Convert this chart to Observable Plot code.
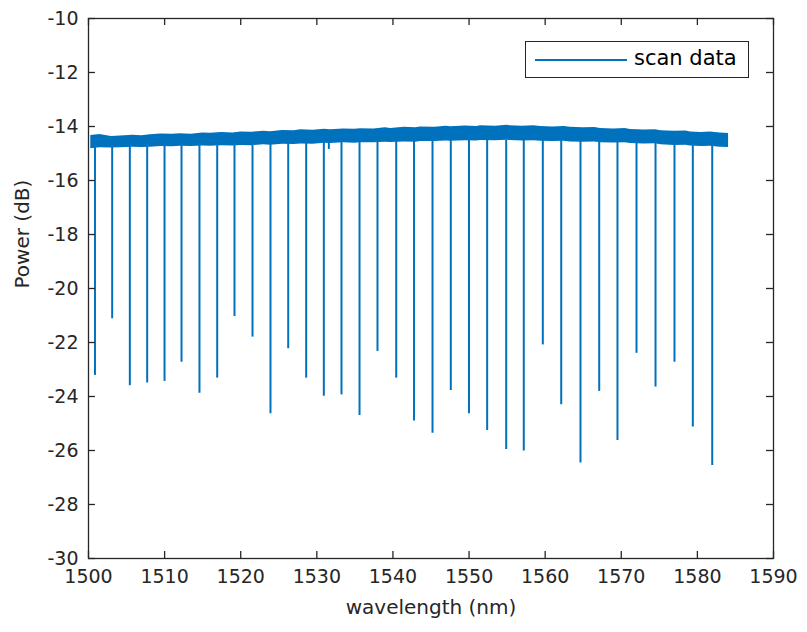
<!DOCTYPE html>
<html>
<head>
<meta charset="utf-8">
<script src="https://cdn.jsdelivr.net/npm/d3@7"></script>
<script src="https://cdn.jsdelivr.net/npm/@observablehq/plot@0.6"></script>
<style>
  html, body { margin: 0; padding: 0; background: #fff; }
  #wrap { position: relative; width: 807px; height: 632px; }
  #legend {
    position: absolute; left: 525px; top: 41px; width: 222px; height: 35px;
    border: 1.2px solid #262626; background: #fff;
    font-family: "DejaVu Sans", sans-serif; font-size: 21px; color: #000;
  }
  #legend svg { position: absolute; left: 9px; top: 16px; }
  #legend span { position: absolute; left: 108px; top: 4px; }
</style>
</head>
<body>
<div id="wrap"><div id="legend"><svg width="94" height="4"><line x1="0" x2="92" y1="2" y2="2" stroke="#0072BD" stroke-width="2"/></svg><span>scan data</span></div></div>
<script>
// axis ticks
const xTicks = [1500, 1510, 1520, 1530, 1540, 1550, 1560, 1570, 1580, 1590];
const yTicks = [-30, -28, -26, -24, -22, -20, -18, -16, -14, -12, -10];

// noisy baseline band: wavelength (nm), upper and lower edge (dB)
const bandW  = [1500.3, 1501.5, 1503.0, 1504.2, 1505.8, 1507.0, 1508.1, 1509.5, 1511.0, 1512.1, 1513.5, 1515.0, 1516.0, 1517.5, 1519.0, 1520.0, 1521.5, 1523.0, 1523.9, 1525.5, 1527.0, 1527.9, 1529.5, 1531.0, 1531.8, 1533.5, 1535.0, 1535.7, 1537.5, 1539.0, 1539.7, 1541.5, 1543.0, 1543.6, 1545.5, 1547.0, 1547.6, 1549.5, 1551.0, 1551.5, 1553.5, 1555.0, 1555.4, 1557.0, 1558.5, 1559.4, 1561.0, 1562.5, 1563.3, 1565.0, 1566.5, 1567.3, 1569.0, 1570.5, 1571.2, 1573.0, 1574.5, 1575.2, 1577.0, 1578.5, 1579.1, 1580.5, 1581.7, 1583.0, 1584.1];
const bandHi = [-14.33, -14.30, -14.37, -14.35, -14.32, -14.34, -14.31, -14.28, -14.29, -14.27, -14.29, -14.24, -14.25, -14.22, -14.24, -14.20, -14.21, -14.18, -14.19, -14.15, -14.16, -14.12, -14.14, -14.10, -14.12, -14.09, -14.10, -14.08, -14.09, -14.05, -14.07, -14.03, -14.05, -14.02, -14.03, -13.99, -14.01, -13.98, -14.00, -13.97, -13.99, -13.95, -13.97, -13.99, -13.97, -14.00, -14.02, -14.00, -14.03, -14.05, -14.04, -14.07, -14.09, -14.07, -14.11, -14.13, -14.12, -14.16, -14.18, -14.17, -14.20, -14.22, -14.20, -14.24, -14.26];
const bandLo = [-14.82, -14.79, -14.80, -14.79, -14.77, -14.78, -14.77, -14.74, -14.75, -14.73, -14.74, -14.72, -14.73, -14.71, -14.72, -14.70, -14.71, -14.68, -14.69, -14.66, -14.67, -14.65, -14.66, -14.62, -14.63, -14.60, -14.62, -14.60, -14.60, -14.58, -14.59, -14.57, -14.58, -14.56, -14.56, -14.54, -14.55, -14.53, -14.54, -14.52, -14.53, -14.51, -14.52, -14.54, -14.53, -14.55, -14.56, -14.55, -14.57, -14.58, -14.57, -14.60, -14.61, -14.60, -14.63, -14.65, -14.64, -14.68, -14.70, -14.69, -14.72, -14.74, -14.73, -14.77, -14.78];

// resonance dips: wavelength (nm) and minimum power (dB)
const dipW = [1500.85, 1503.11, 1505.43, 1507.71, 1509.99, 1512.22, 1514.58, 1516.91, 1519.18, 1521.55, 1523.91, 1526.24, 1528.60, 1530.92, 1531.58, 1533.24, 1535.61, 1537.97, 1540.43, 1542.77, 1545.20, 1547.60, 1549.99, 1552.38, 1554.88, 1557.19, 1559.69, 1562.11, 1564.64, 1567.10, 1569.50, 1572.00, 1574.50, 1576.99, 1579.40, 1581.95];
const dipP = [-23.22, -21.12, -23.60, -23.50, -23.44, -22.73, -23.88, -23.32, -21.04, -21.80, -24.64, -22.23, -23.32, -23.99, -14.85, -23.94, -24.70, -22.33, -23.32, -24.91, -25.36, -23.78, -24.64, -25.26, -25.96, -26.02, -22.09, -24.31, -26.46, -23.81, -25.63, -22.40, -23.65, -22.73, -25.13, -26.56];
const dipBase = -14.5;

const band = bandW.map((w, i) => ({w, hi: bandHi[i], lo: bandLo[i]}));
const dips = dipW.map((w, i) => ({w, p: dipP[i]}));

const W = 807, H = 632;
const mL = 88, mR = 34, mT = 18, mB = 74;
const fw = W - mL - mR, fh = H - mT - mB;
const tick = 7;
const ink = "#262626";
const blue = "#0072BD";
const font = "DejaVu Sans, sans-serif";

const chart = Plot.plot({
  width: W, height: H,
  marginLeft: mL, marginRight: mR, marginTop: mT, marginBottom: mB,
  x: {domain: [1500, 1590], label: null},
  y: {domain: [-30, -10], label: null},
  style: {fontFamily: font, fontSize: "20px", color: ink, background: "#fff", overflow: "visible"},
  marks: [
    Plot.areaY(band, {x: "w", y1: "lo", y2: "hi", fill: blue, curve: "linear"}),
    Plot.ruleX(dips, {x: "w", y1: dipBase, y2: "p", stroke: blue, strokeWidth: 2}),
    Plot.frame({stroke: ink, strokeWidth: 1.3}),
    Plot.ruleX(xTicks, {x: d => d, insetTop: fh - tick, stroke: ink, strokeWidth: 1.3}),
    Plot.ruleX(xTicks, {x: d => d, insetBottom: fh - tick, stroke: ink, strokeWidth: 1.3}),
    Plot.ruleY(yTicks, {y: d => d, insetRight: fw - tick, stroke: ink, strokeWidth: 1.3}),
    Plot.ruleY(yTicks, {y: d => d, insetLeft: fw - tick, stroke: ink, strokeWidth: 1.3}),
    Plot.axisX(xTicks, {tickSize: 0, tickPadding: 11, label: null, fontSize: 19, tickFormat: d => String(d)}),
    Plot.axisY(yTicks, {tickSize: 0, tickPadding: 10, label: null, fontSize: 19, tickFormat: d => String(d)}),
    Plot.text(["wavelength (nm)"], {frameAnchor: "bottom", dy: 49, fontSize: 20, fill: ink, lineAnchor: "middle"}),
    Plot.text(["Power (dB)"], {frameAnchor: "left", dx: -66, rotate: -90, fontSize: 20, fill: ink, lineAnchor: "middle"})
  ]
});
document.getElementById("wrap").prepend(chart);
</script>
</body>
</html>
